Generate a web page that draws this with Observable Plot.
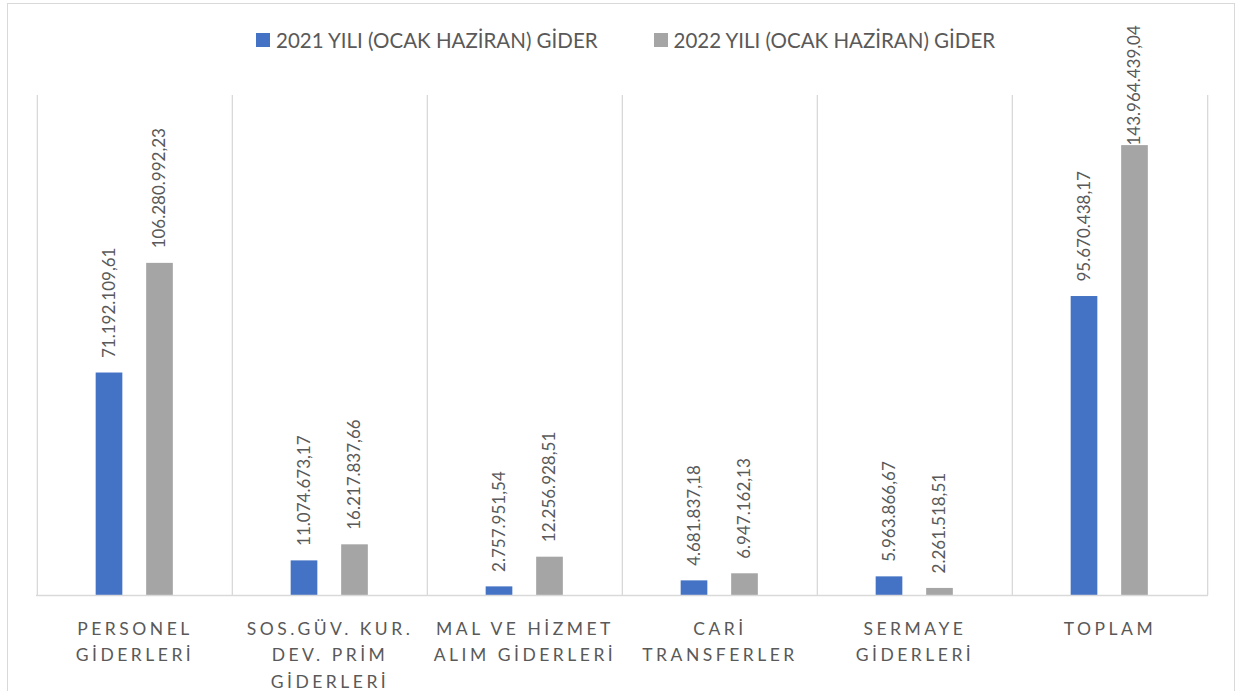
<!DOCTYPE html>
<html>
<head>
<meta charset="utf-8">
<script src="https://cdn.jsdelivr.net/npm/d3@7"></script>
<script src="https://cdn.jsdelivr.net/npm/@observablehq/plot@0.6"></script>
<style>
  html, body { margin: 0; padding: 0; background: #fff; overflow: hidden; font-family: Lato, "Noto Sans", sans-serif; }
  #frame { position: absolute; left: 7px; top: 3px; width: 1226px; height: 720px; border: 1px solid #d9d9d9; background: #fff; }
  #legend { position: relative; height: 66px; color: #595959; font-size: 20.5px; }
  .item { position: absolute; top: 25px; height: 22px; display: flex; align-items: center; white-space: nowrap; line-height: 1; }
  .sw { width: 14px; height: 14px; margin-right: 6px; flex: none; }
  #chart svg [aria-label="x-axis tick label"] { letter-spacing: 3.5px; }
</style>
</head>
<body>
<div id="frame">
  <div id="legend"></div>
  <div id="chart"></div>
</div>
<script>
// ---- data ----
const categories = ["PERSONEL GİDERLERİ", "SOS.GÜV. KUR. DEV. PRİM GİDERLERİ", "MAL VE HİZMET ALIM GİDERLERİ", "CARİ TRANSFERLER", "SERMAYE GİDERLERİ", "TOPLAM"];
const categoryLabels = [
  ["PERSONEL", "GİDERLERİ"],
  ["SOS.GÜV. KUR.", "DEV. PRİM", "GİDERLERİ"],
  ["MAL VE HİZMET", "ALIM GİDERLERİ"],
  ["CARİ", "TRANSFERLER"],
  ["SERMAYE", "GİDERLERİ"],
  ["TOPLAM"]
];
const seriesNames = ["2021 YILI (OCAK HAZİRAN) GİDER", "2022 YILI (OCAK HAZİRAN) GİDER"];
const values2021 = [71192109.61, 11074673.17, 2757951.54, 4681837.18, 5963866.67, 95670438.17];
const values2022 = [106280992.23, 16217837.66, 12256928.51, 6947162.13, 2261518.51, 143964439.04];
const seriesColors = ["#4472c4", "#a5a5a5"];
const yMax = 160000000;

// ---- build ----
const trFormat = d3.formatLocale({decimal: ",", thousands: ".", grouping: [3], currency: ["", ""]}).format(",.2f");
const rows2021 = categories.map((c, i) => ({category: c, value: values2021[i]}));
const rows2022 = categories.map((c, i) => ({category: c, value: values2022[i]}));
const labelOf = new Map(categories.map((c, i) => [c, categoryLabels[i].join("\n")]));

// legend
const legend = document.getElementById("legend");
const legendLefts = [248, 645.5];
seriesNames.forEach((name, i) => {
  const it = document.createElement("div");
  it.className = "item";
  it.style.left = legendLefts[i] + "px";
  it.innerHTML = `<span class="sw" style="background:${seriesColors[i]}"></span><span>${name}</span>`;
  legend.appendChild(it);
});

const W = 1226, mL = 28, mR = 26;
const bw = (W - mL - mR) / categories.length;
const barW = 27;
const off1 = -25.5, off2 = 25;           // bar centre offsets from the band centre
const inset = (off) => ({insetLeft: bw / 2 + off - barW / 2, insetRight: bw / 2 - off - barW / 2});
const labelCap = 139.2e6;                // keep the tallest label inside the plot

const chart = Plot.plot({
  width: W,
  height: 625,
  marginLeft: mL,
  marginRight: mR,
  marginTop: 25,
  marginBottom: 100,
  style: {fontFamily: "Lato, 'Noto Sans', sans-serif", background: "transparent", overflow: "visible"},
  x: {type: "band", domain: categories, padding: 0},
  y: {domain: [0, yMax], axis: null},
  marks: [
    Plot.ruleX(categories, {x: d => d, dx: -bw / 2, y1: 0, y2: yMax, stroke: "#d9d9d9", strokeWidth: 1.3}),
    Plot.ruleX(categories.slice(-1), {x: d => d, dx: bw / 2, y1: 0, y2: yMax, stroke: "#d9d9d9", strokeWidth: 1.3}),
    Plot.barY(rows2021, {x: "category", y: "value", fill: seriesColors[0], ...inset(off1)}),
    Plot.barY(rows2022, {x: "category", y: "value", fill: seriesColors[1], ...inset(off2)}),
    Plot.ruleY([0], {stroke: "#d9d9d9", strokeWidth: 1.3}),
    Plot.text(rows2021, {x: "category", y: d => Math.min(d.value, labelCap), text: d => trFormat(d.value), rotate: -90, textAnchor: "start", dx: off1, dy: -15, fontSize: 17, fill: "#595959"}),
    Plot.text(rows2022, {x: "category", y: d => Math.min(d.value, labelCap), text: d => trFormat(d.value), rotate: -90, textAnchor: "start", dx: off2, dy: -15, fontSize: 17, fill: "#595959"}),
    Plot.axisX({tickSize: 0, tickPadding: 20.6, fontSize: 17.5, lineHeight: 1.51, fill: "#595959", tickFormat: d => labelOf.get(d), label: null})
  ]
});
document.getElementById("chart").appendChild(chart);
</script>
</body>
</html>
